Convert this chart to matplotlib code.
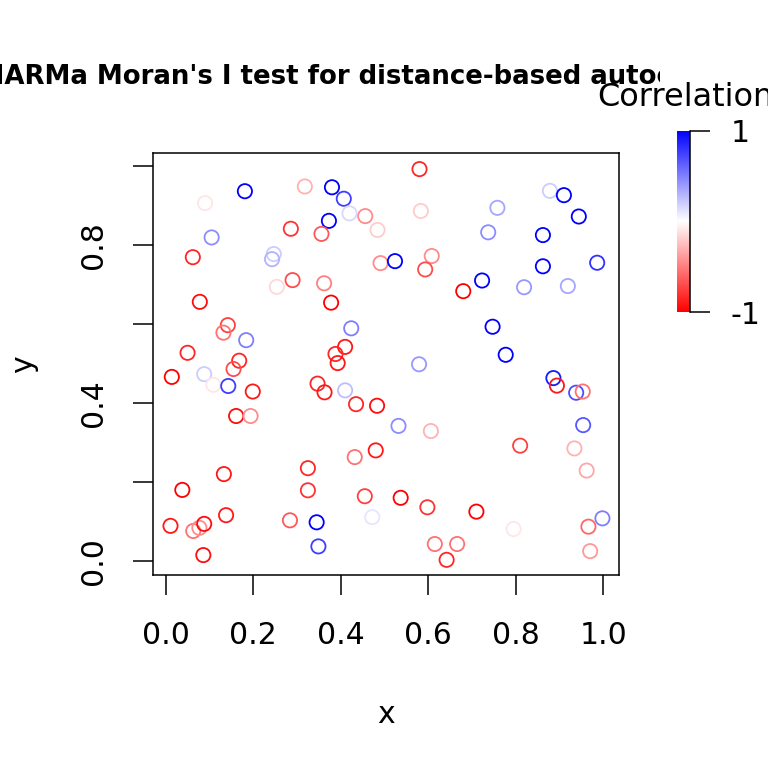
import numpy as np
import matplotlib
matplotlib.use("Agg")
import matplotlib.pyplot as plt
from matplotlib.colors import LinearSegmentedColormap, Normalize
from matplotlib.transforms import Bbox, TransformedBbox

# point positions and their correlation value (-1 red ... 1 blue)
x = [0.181, 0.090, 0.105, 0.062, 0.078, 0.142, 0.132, 0.184, 0.050, 0.168,
     0.155, 0.318, 0.380, 0.407, 0.420, 0.456, 0.484, 0.373, 0.286, 0.356,
     0.247, 0.243, 0.491, 0.290, 0.254, 0.362, 0.378, 0.424, 0.410, 0.388,
     0.393, 0.580, 0.583, 0.524, 0.608, 0.593, 0.680, 0.723, 0.758, 0.737,
     0.878, 0.910, 0.944, 0.862, 0.862, 0.986, 0.819, 0.919, 0.747, 0.777,
     0.579, 0.014, 0.088, 0.109, 0.143, 0.199, 0.161, 0.194, 0.347, 0.363,
     0.410, 0.435, 0.483, 0.480, 0.432, 0.133, 0.038, 0.325, 0.325, 0.455,
     0.472, 0.011, 0.063, 0.077, 0.088, 0.138, 0.086, 0.284, 0.345, 0.349,
     0.886, 0.894, 0.938, 0.953, 0.954, 0.532, 0.606, 0.810, 0.934, 0.962,
     0.537, 0.598, 0.710, 0.795, 0.998, 0.966, 0.970, 0.615, 0.666, 0.642]
y = [0.936, 0.906, 0.819, 0.769, 0.656, 0.597, 0.578, 0.559, 0.527, 0.507,
     0.486, 0.948, 0.946, 0.917, 0.880, 0.873, 0.838, 0.861, 0.841, 0.828,
     0.777, 0.764, 0.754, 0.711, 0.694, 0.703, 0.654, 0.589, 0.542, 0.524,
     0.501, 0.992, 0.886, 0.759, 0.772, 0.738, 0.683, 0.710, 0.894, 0.832,
     0.937, 0.926, 0.872, 0.825, 0.746, 0.755, 0.693, 0.696, 0.593, 0.522,
     0.498, 0.466, 0.473, 0.446, 0.443, 0.429, 0.367, 0.367, 0.449, 0.427,
     0.432, 0.397, 0.393, 0.280, 0.263, 0.220, 0.180, 0.235, 0.179, 0.164,
     0.111, 0.089, 0.076, 0.084, 0.094, 0.116, 0.015, 0.103, 0.098, 0.037,
     0.463, 0.444, 0.426, 0.429, 0.344, 0.342, 0.329, 0.292, 0.285, 0.229,
     0.160, 0.136, 0.125, 0.081, 0.108, 0.087, 0.025, 0.043, 0.043, 0.003]
corr = [1.0, -0.1, 0.45, -0.85, -0.95, -0.75, -0.55, 0.5, -0.85, -0.85,
        -0.7, -0.3, 1.0, 0.75, 0.15, -0.45, -0.2, 1.0, -0.8, -0.65,
        0.2, 0.3, -0.45, -0.7, -0.15, -0.5, -1.0, 0.5, -0.9, -0.85,
        -0.9, -0.85, -0.2, 1.0, -0.45, -0.7, -1.0, 1.0, 0.35, 0.45,
        0.2, 1.0, 1.0, 1.0, 1.0, 0.8, 0.4, 0.35, 1.0, 1.0,
        0.4, -1.0, 0.2, -0.1, 0.75, -0.9, -0.95, -0.45, -0.85, -0.9,
        0.25, -0.85, -0.95, -0.9, -0.55, -0.9, -1.0, -0.85, -0.8, -0.75,
        0.1, -0.9, -0.55, -0.45, -0.95, -0.9, -0.95, -0.65, 1.0, 0.75,
        0.9, -0.9, 0.7, -0.55, 0.65, 0.45, -0.3, -0.75, -0.3, -0.35,
        -1.0, -0.8, -1.0, -0.1, 0.5, -0.6, -0.4, -0.55, -0.55, -0.85]

cmap = LinearSegmentedColormap.from_list("rwb", ["red", "white", "blue"])
norm = Normalize(vmin=-1, vmax=1)
fs = 21.5

fig = plt.figure(figsize=(7.68, 7.68), dpi=100)
ax = fig.add_axes([0.1996, 0.2513, 0.8064 - 0.1996, 0.8004 - 0.2513])
ax.scatter(x, y, s=105, facecolors="none", edgecolors=cmap(norm(np.array(corr))),
           linewidths=1.3)
ax.set_xlim(-0.0283, 1.0366)
ax.set_ylim(-0.0354, 1.032)
ax.set_xticks([0, 0.2, 0.4, 0.6, 0.8, 1.0])
ax.set_xticklabels(["0.0", "0.2", "0.4", "0.6", "0.8", "1.0"])
ax.set_yticks([0, 0.2, 0.4, 0.6, 0.8, 1.0])
ax.set_yticklabels(["0.0", "", "0.4", "", "0.8", ""], rotation=90, va="center")
ax.tick_params(length=14.4, width=1.1, labelsize=fs, pad=18)
ax.tick_params(axis="x", pad=19)
for s in ax.spines.values():
    s.set_linewidth(1.1)
ax.set_xlabel("x", fontsize=fs, labelpad=36)
ax.set_ylabel("y", fontsize=fs, labelpad=30)

# colour bar
cax = fig.add_axes([677.3 / 768, 1 - 312.3 / 768, 12.7 / 768, 181.6 / 768])
grad = np.linspace(-1, 1, 256).reshape(-1, 1)
cax.imshow(grad, cmap=cmap, norm=norm, aspect="auto", origin="lower",
           extent=[0, 1, -1, 1])
cax.set_xlim(0, 1)
cax.set_ylim(-1, 1)
for k in ["left", "top", "bottom"]:
    cax.spines[k].set_visible(False)
cax.spines["right"].set_linewidth(1.1)
cax.set_xticks([])
cax.yaxis.tick_right()
cax.set_yticks([-1, 1])
cax.set_yticklabels(["-1", "1"])
cax.tick_params(axis="y", length=14.4, width=1.1, labelsize=fs, pad=15)

fig.text(597 / 768, 1 - 98 / 768, "Correlation", fontsize=23, va="center", ha="left")

t = fig.text(389 / 768, 1 - 77 / 768,
             "DHARMa Moran's I test for distance-based autocorrelation",
             fontsize=18.7, fontweight="bold", ha="center", va="center")
t.set_clip_box(TransformedBbox(Bbox.from_extents(0, 0, 660 / 768, 1), fig.transFigure))
t.set_clip_on(True)

fig.savefig("out.png", dpi=100)
